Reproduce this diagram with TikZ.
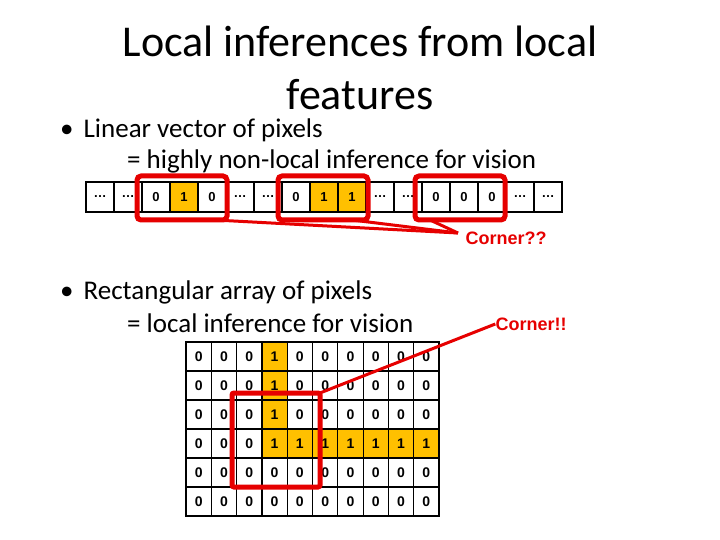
\documentclass[tikz,border=0pt]{standalone}
\usepackage{fontspec}
\setmainfont{Carlito}
\newfontfamily\arial{Liberation Sans}
\definecolor{hl}{RGB}{255,192,0}
\definecolor{rd}{RGB}{230,0,0}
\begin{document}
\begin{tikzpicture}[x=1pt,y=-1pt,
  cell/.style={draw=black,line width=1.2pt,minimum width=28pt,minimum height=30pt,inner sep=0pt,font=\arial\bfseries\fontsize{13}{13}\selectfont},
  gcell/.style={draw=black,line width=1.2pt,minimum width=25.3pt,minimum height=29pt,inner sep=0pt,font=\arial\bfseries\fontsize{14}{14}\selectfont},
  redbox/.style={draw=rd,line width=5pt,rounded corners=4pt},
  redline/.style={draw=rd,line width=3pt},
  txt/.style={anchor=west,inner sep=0pt,font=\fontsize{27}{30}\selectfont},
  lbl/.style={text=rd,inner sep=0pt,font=\arial\bfseries\fontsize{18}{18}\selectfont}]
\useasboundingbox (0,0) rectangle (720,540);
\node[align=center,font=\fontsize{44}{53}\selectfont] (title) at (360,68) {Local inferences from local\\features};
\node[txt] (b1) at (60,130) {•\hspace{10pt}Linear vector of pixels};
\node[txt] (b1b) at (127,161) {= highly non-local inference for vision};
\node[txt] (b2) at (60,292) {•\hspace{10pt}Rectangular array of pixels};
\node[txt] (b2b) at (127,323) {= local inference for vision};
% linear row
\foreach \v/\f [count=\i from 0] in {…/0,…/0,0/0,1/1,0/0,…/0,…/0,0/0,1/1,1/1,…/0,…/0,0/0,0/0,0/0,…/0,…/0}{
  \ifnum\f=1
    \node[cell,fill=hl] (l\i) at (100+28*\i,197) {\v};
  \else
    \node[cell] (l\i) at (100+28*\i,197) {\v};
  \fi}
\node[lbl] (cq) at (506,238) {Corner??};
\coordinate (tip) at (458,233);
\draw[redline] (215,220) -- (tip);
\draw[redline] (352,220) -- (tip);
\draw[redline] (430,220) -- (tip);
\draw[redbox] (137,176) rectangle (227,220);
\draw[redbox] (278,176) rectangle (368,220);
\draw[redbox] (415,176) rectangle (505,220);
% grid
\foreach \r in {0,...,5}{
 \foreach \c in {0,...,9}{
  \pgfmathtruncatemacro{\one}{(\c==3 && \r<=3) || (\r==3 && \c>=3)}
  \ifnum\one=1
   \node[gcell,fill=hl] (g\r\c) at (198.65+25.3*\c,356.5+29*\r) {1};
  \else
   \node[gcell] (g\r\c) at (198.65+25.3*\c,356.5+29*\r) {0};
  \fi}}
\node[lbl] (ce) at (531,324) {Corner!!};
\draw[redbox,rounded corners=2pt] (232,393) rectangle (320,487);
\draw[redline] (320,393) -- (ce.west);
\end{tikzpicture}
\end{document}
